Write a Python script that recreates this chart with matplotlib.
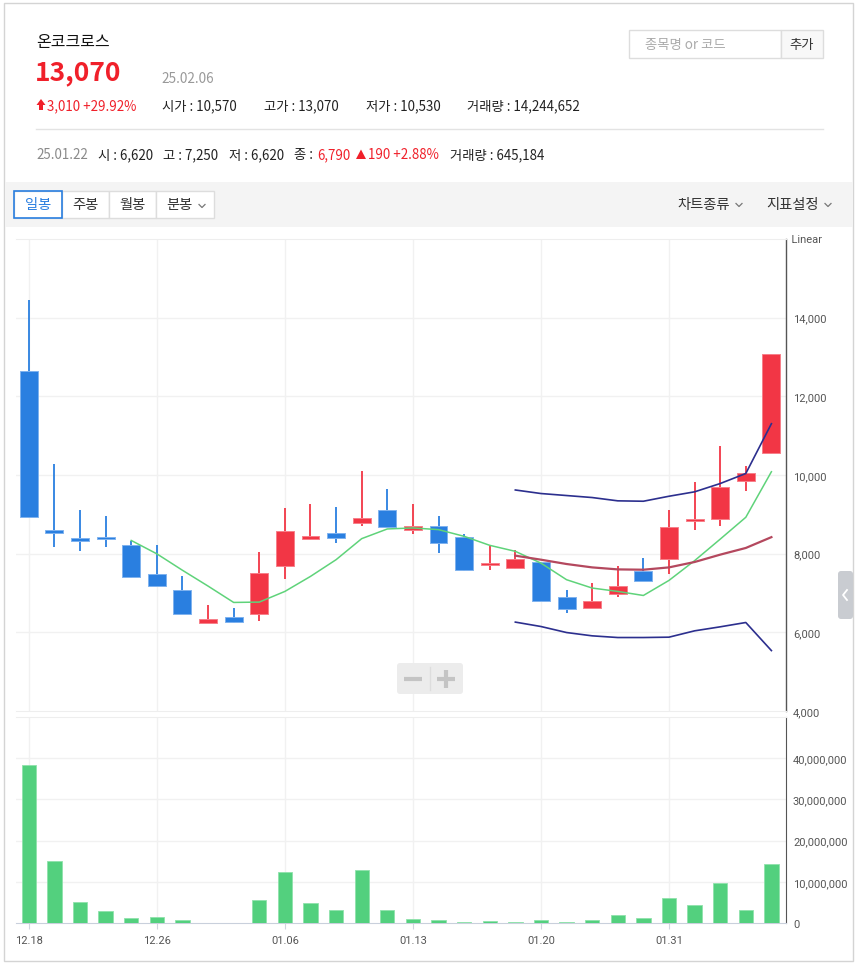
import matplotlib
matplotlib.use('Agg')
import matplotlib.pyplot as plt
from matplotlib.patches import Rectangle, FancyBboxPatch
from matplotlib.ticker import FuncFormatter

plt.rcParams['font.family'] = ['Noto Sans CJK KR', 'DejaVu Sans']

# ---------------- data ----------------
dates = ['12.18', '12.19', '12.20', '12.23', '12.24', '12.26', '12.27', '12.30', '01.02', '01.03',
         '01.06', '01.07', '01.08', '01.09', '01.10', '01.13', '01.14', '01.15', '01.16', '01.17',
         '01.20', '01.21', '01.22', '01.23', '01.24', '01.31', '02.03', '02.04', '02.05', '02.06']
opens = [12650, 8570, 8400, 8420, 8230, 7480, 7080, 6250, 6390, 6470,
         7680, 8370, 8520, 8770, 9120, 8610, 8710, 8420, 7710, 7640,
         7780, 6900, 6620, 6980, 7560, 7860, 8830, 8880, 9840, 10570]
highs = [14450, 10270, 9110, 8970, 8320, 8220, 7420, 6700, 6630, 8040,
         9160, 9270, 9190, 10100, 9650, 9270, 8970, 8500, 8190, 8100,
         7780, 7080, 7250, 7690, 7900, 9100, 9830, 10750, 10240, 13070]
lows = [8900, 8160, 8080, 8180, 7370, 7190, 6470, 6250, 6250, 6300,
        7350, 8340, 8260, 8710, 8680, 8500, 8020, 7570, 7590, 7600,
        6790, 6500, 6620, 6900, 7300, 7480, 8610, 8710, 9590, 10530]
closes = [8940, 8530, 8310, 8370, 7400, 7190, 6470, 6340, 6275, 7510,
          8580, 8460, 8400, 8900, 8680, 8700, 8260, 7590, 7730, 7860,
          6790, 6600, 6790, 7180, 7300, 8680, 8890, 9700, 10060, 13070]
volumes = [38400000, 15000000, 5100000, 2800000, 1200000, 1500000, 700000, 80000, 80000, 5600000,
           12500000, 4900000, 3100000, 12800000, 3100000, 970000, 700000, 250000, 500000, 150000,
           700000, 300000, 645184, 2000000, 1200000, 6100000, 4300000, 9700000, 3100000, 14244652]

ma5_start = 4
ma5 = [8336, 7996, 7578, 7176, 6760, 6769, 7040, 7422, 7847, 8382, 8628, 8654, 8611,
       8441, 8212, 8059, 7760, 7338, 7126, 7040, 6937, 7320, 7822, 8369, 8925, 10083]
band_start = 19
ma20 = [7949, 7847, 7737, 7651, 7600, 7592, 7651, 7788, 7975, 8145, 8420]
bb_upper = [9619, 9529, 9478, 9427, 9343, 9333, 9460, 9572, 9783, 10038, 11304]
bb_lower = [6260, 6148, 5995, 5911, 5868, 5868, 5877, 6038, 6140, 6250, 5536]

date_ticks = ['12.18', '12.26', '01.06', '01.13', '01.20', '01.31']
price_ticks = [4000, 6000, 8000, 10000, 12000, 14000]
volume_ticks = [0, 10000000, 20000000, 30000000, 40000000]

# ---------------- figure ----------------
W, H = 859, 970
fig = plt.figure(figsize=(W / 100, H / 100), dpi=100)
fig.patch.set_facecolor('white')


def rect(x0, y0, x1, y1):
    return [x0 / W, 1 - y1 / H, (x1 - x0) / W, (y1 - y0) / H]


# background overlay (pixel coordinates)
ov = fig.add_axes([0, 0, 1, 1], zorder=0)
ov.set_xlim(0, W)
ov.set_ylim(H, 0)
ov.axis('off')

ov.add_patch(Rectangle((4, 4), 849, 958, fill=False, ec='#d4d4d4', lw=1))
ov.add_patch(Rectangle((5, 183), 848, 45, fc='#f4f4f4', ec='none'))

RED = '#f0202a'
GRAY = '#8a8a8a'
DARK = '#222222'
FS = 9.6

ov.text(36, 42, '온코크로스', fontsize=11.5, color='#111111', va='center', ha='left')
ov.text(35, 73, '13,070', fontsize=19, color=RED, va='center', ha='left', fontweight='bold')
ov.text(161, 79, '25.02.06', fontsize=9.8, color='#999999', va='center', ha='left')

# up arrow
ov.add_patch(plt.Polygon([[36.5, 106], [41, 100], [45.5, 106]], closed=True, fc=RED, ec='none'))
ov.add_patch(Rectangle((39.2, 105.5), 3.6, 5.5, fc=RED, ec='none'))
ov.text(47, 106, '3,010 +29.92%', fontsize=FS, color=RED, va='center', ha='left')
ov.text(162, 106, '시가 : 10,570', fontsize=FS, color=DARK, va='center', ha='left')
ov.text(264, 106, '고가 : 13,070', fontsize=FS, color=DARK, va='center', ha='left')
ov.text(366, 106, '저가 : 10,530', fontsize=FS, color=DARK, va='center', ha='left')
ov.text(467, 106, '거래량 : 14,244,652', fontsize=FS, color=DARK, va='center', ha='left')

ov.plot([36, 823], [129.5, 129.5], color='#e3e3e3', lw=1)

ov.text(36, 155, '25.01.22', fontsize=FS, color=GRAY, va='center', ha='left')
ov.text(98, 155, '시 : 6,620', fontsize=FS, color=DARK, va='center', ha='left')
ov.text(163, 155, '고 : 7,250', fontsize=FS, color=DARK, va='center', ha='left')
ov.text(229, 155, '저 : 6,620', fontsize=FS, color=DARK, va='center', ha='left')
ov.text(294, 155, '종 :', fontsize=FS, color=DARK, va='center', ha='left')
ov.text(317, 155, '6,790', fontsize=FS, color=RED, va='center', ha='left')
ov.add_patch(plt.Polygon([[356, 160], [361, 150.5], [366, 160]], closed=True, fc=RED, ec='none'))
ov.text(368, 155, '190 +2.88%', fontsize=FS, color=RED, va='center', ha='left')
ov.text(450, 155, '거래량 : 645,184', fontsize=FS, color=DARK, va='center', ha='left')

# search box
ov.add_patch(Rectangle((629, 31), 152, 28, fc='white', ec='#dddddd', lw=1))
ov.add_patch(Rectangle((781, 31), 42, 28, fc='#f8f8f8', ec='#dddddd', lw=1))
ov.text(645, 45, '종목명 or 코드', fontsize=FS, color='#aaaaaa', va='center', ha='left')
ov.text(802, 45, '추가', fontsize=FS, color='#333333', va='center', ha='center')

# toolbar buttons
btns = [('일봉', 14, 62), ('주봉', 62, 109), ('월봉', 109, 156), ('분봉', 156, 214)]
for i, (lab, x0, x1) in enumerate(btns):
    ov.add_patch(Rectangle((x0, 192), x1 - x0, 27, fc='white', ec='#dddddd', lw=1, zorder=1))
for i, (lab, x0, x1) in enumerate(btns):
    if i == 0:
        ov.add_patch(Rectangle((x0, 192), x1 - x0, 27, fc='none', ec='#2a7fe0', lw=1.2, zorder=2))
        ov.text((x0 + x1) / 2, 205.5, lab, fontsize=10.3, color='#2a7fe0', va='center', ha='center', zorder=3)
    elif i == 3:
        ov.text(166, 205.5, lab, fontsize=10.3, color='#333333', va='center', ha='left', zorder=3)
    else:
        ov.text((x0 + x1) / 2, 205.5, lab, fontsize=10.3, color='#333333', va='center', ha='center', zorder=3)


def chevron(x, y, s=3.0, color='#777777'):
    ov.plot([x - s, x, x + s], [y - s / 2, y + s / 2, y - s / 2], color=color, lw=0.9, zorder=3)


chevron(202, 207)
ov.text(677, 205, '차트종류', fontsize=10.3, color='#333333', va='center', ha='left')
chevron(739, 206)
ov.text(766, 205, '지표설정', fontsize=10.3, color='#333333', va='center', ha='left')
chevron(828, 206)

# ---------------- price panel ----------------
x = list(range(len(dates)))
XMIN, XMAX = -0.5, 29.57
GRID = '#f1f1f1'
BLUE = '#2a7fe0'
CRED = '#f23645'
tick_pos = [dates.index(d) for d in date_ticks]

axp = fig.add_axes(rect(16, 240, 786, 712), zorder=1)
axp.set_facecolor('none')
axp.set_xlim(XMIN, XMAX)
axp.set_ylim(4000, 16000)
for xi in tick_pos:
    axp.axvline(xi, color=GRID, lw=1, zorder=0)
for yv in price_ticks[1:]:
    axp.axhline(yv, color=GRID, lw=1, zorder=0)

for i in x:
    o, h, l, c = opens[i], highs[i], lows[i], closes[i]
    col = CRED if c >= o else BLUE
    ecol = '#f7808a' if c >= o else '#7fb2ee'
    axp.vlines(i, l, h, color=col, lw=1.3, zorder=2)
    bottom = min(o, c)
    height = max(abs(c - o), 60)
    axp.bar(i, height, bottom=bottom, width=0.7, color=col, edgecolor=ecol, lw=0.7, zorder=3)

axp.plot(range(ma5_start, ma5_start + len(ma5)), ma5, color='#5fd37a', lw=1.1, zorder=4)
bx = range(band_start, band_start + len(ma20))
axp.plot(bx, ma20, color='#b4485e', lw=1.6, zorder=4)
axp.plot(bx, bb_upper, color='#2c2f8e', lw=1.2, zorder=4)
axp.plot(bx, bb_lower, color='#2c2f8e', lw=1.2, zorder=4)

axp.yaxis.tick_right()
axp.set_yticks(price_ticks)
axp.yaxis.set_major_formatter(FuncFormatter(lambda v, p: f'{int(v):,}'))
axp.tick_params(axis='y', length=0, pad=5, labelsize=8, labelcolor='#555555')
for t in axp.get_yticklabels():
    t.set_fontfamily(['Roboto', 'DejaVu Sans'])
axp.set_xticks([])
axp.spines['left'].set_visible(False)
axp.spines['top'].set_color('#eeeeee')
axp.spines['bottom'].set_color('#eeeeee')
axp.spines['right'].set_color('#555555')
axp.spines['right'].set_linewidth(1)
axp.text(1.0, 1.0, '  Linear', transform=axp.transAxes, fontsize=8, color='#555555',
         va='center', ha='left', family=['Roboto', 'DejaVu Sans'])

# ---------------- volume panel ----------------
axv = fig.add_axes(rect(16, 718, 786, 924), zorder=1)
axv.set_facecolor('none')
axv.set_xlim(XMIN, XMAX)
axv.set_ylim(0, 50000000)
for xi in tick_pos:
    axv.axvline(xi, color=GRID, lw=1, zorder=0)
for yv in volume_ticks[1:]:
    axv.axhline(yv, color=GRID, lw=1, zorder=0)
axv.bar(x, volumes, width=0.56, color='#53d07e', edgecolor='#8fe2ab', lw=0.6, zorder=3)
axv.yaxis.tick_right()
axv.set_yticks(volume_ticks)
axv.yaxis.set_major_formatter(FuncFormatter(lambda v, p: f'{int(v):,}'))
axv.tick_params(axis='y', length=0, pad=5, labelsize=8, labelcolor='#555555')
axv.set_xticks(tick_pos)
axv.set_xticklabels(date_ticks)
axv.tick_params(axis='x', length=4, color='#d0d5de', pad=5, labelsize=8, labelcolor='#555555')
for t in axv.get_yticklabels() + axv.get_xticklabels():
    t.set_fontfamily(['Roboto', 'DejaVu Sans'])
axv.spines['left'].set_visible(False)
axv.spines['top'].set_color('#eeeeee')
axv.spines['bottom'].set_color('#c9d0dc')
axv.spines['right'].set_color('#555555')

# ---------------- foreground overlay ----------------
fg = fig.add_axes([0, 0, 1, 1], zorder=5)
fg.set_facecolor('none')
fg.set_xlim(0, W)
fg.set_ylim(H, 0)
fg.axis('off')
fg.add_patch(FancyBboxPatch((397, 664), 66, 31, boxstyle='round,pad=0,rounding_size=3',
                            fc='#ececec', ec='none'))
fg.plot([404, 422], [680, 680], color='#c4c4c4', lw=3, solid_capstyle='butt')
fg.plot([437, 455], [680, 680], color='#c4c4c4', lw=3, solid_capstyle='butt')
fg.plot([446, 446], [671, 689], color='#c4c4c4', lw=3, solid_capstyle='butt')
fg.plot([430, 430], [668, 691], color='#dddddd', lw=1)
fg.add_patch(FancyBboxPatch((838, 572), 15, 48, boxstyle='round,pad=0,rounding_size=3',
                            fc='#c9ccd1', ec='none'))
fg.plot([847, 843, 847], [591, 596, 601], color='white', lw=1.3)

fig.savefig('out.png', dpi=100, facecolor='white')
